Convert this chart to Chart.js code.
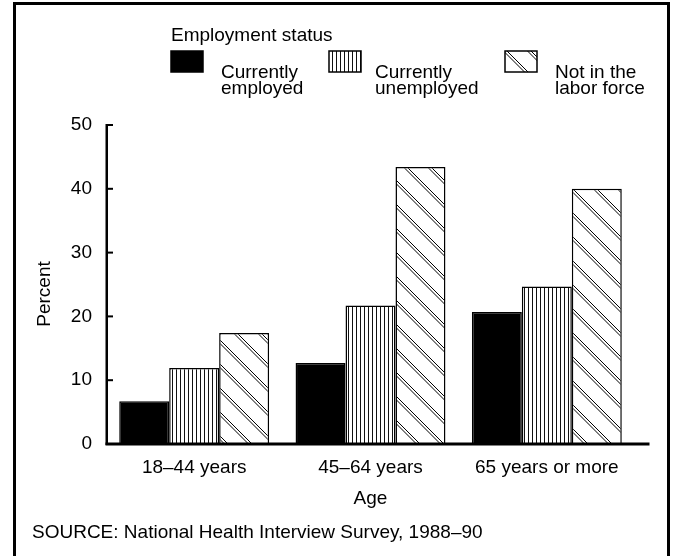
<!DOCTYPE html>
<html><head><meta charset="utf-8">
<script src="https://cdn.jsdelivr.net/npm/chart.js@4.4.1/dist/chart.umd.min.js"></script>
<style>html,body{margin:0;padding:0;background:#fff}#wrap{width:673px;height:556px;position:relative}</style>
</head><body><div id="wrap"><canvas id="c" width="673" height="556"></canvas></div>
<script>
const categories = ["18\u201344 years", "45\u201364 years", "65 years or more"];
const seriesNames = [["Currently", "employed"], ["Currently", "unemployed"], ["Not in the", "labor force"]];
const employed = [6.7, 12.7, 20.7];
const unemployed = [11.9, 21.7, 24.7];
const notInLaborForce = [17.4, 43.4, 40.0];
const yTicks = [0, 10, 20, 30, 40, 50];
const legendTitle = "Employment status";
const xTitle = "Age";
const yTitle = "Percent";
const sourceNote = "SOURCE: National Health Interview Survey, 1988\u201390";

const FONT = '"Liberation Sans", Arial, Helvetica, sans-serif';

function stripePattern() {
  const c = document.createElement('canvas'); c.width = 4; c.height = 4;
  const g = c.getContext('2d');
  g.fillStyle = '#fff'; g.fillRect(0, 0, 4, 4);
  g.fillStyle = '#111'; g.fillRect(0, 0, 1, 4);
  return document.getElementById('c').getContext('2d').createPattern(c, 'repeat');
}
function diagPattern() {
  const s = 24;
  const c = document.createElement('canvas'); c.width = s; c.height = s;
  const g = c.getContext('2d');
  g.fillStyle = '#fff'; g.fillRect(0, 0, s, s);
  g.strokeStyle = '#000'; g.lineWidth = 1;
  [0, 3.5].forEach(off => {
    [-s, 0, s].forEach(k => {
      g.beginPath(); g.moveTo(-2, -2 + off + k); g.lineTo(s + 2, s + 2 + off + k); g.stroke();
    });
  });
  return document.getElementById('c').getContext('2d').createPattern(c, 'repeat');
}

const fills = ['#000', stripePattern(), diagPattern()];
const seriesData = [employed, unemployed, notInLaborForce];

const decor = {
  id: 'decor',
  afterDraw(chart) {
    const ctx = chart.ctx;
    const ys = chart.scales.y;
    const y0 = ys.getPixelForValue(0), yTop = ys.getPixelForValue(50);
    const left = chart.chartArea.left;
    ctx.save();
    // frame
    ctx.strokeStyle = '#000'; ctx.lineWidth = 3;
    ctx.strokeRect(14.5, 3.5, 654, 570);
    // axes
    ctx.fillStyle = '#000';
    ctx.fillRect(left - 0.5, yTop - 1, 2.5, y0 - yTop + 2);
    ctx.fillRect(left - 0.5, y0 - 1.5, 650 - left, 3);
    yTicks.forEach(v => {
      if (v === 0) return;
      const py = ys.getPixelForValue(v);
      ctx.fillRect(left, py - 1, 7, 2);
    });
    // y title
    ctx.font = '19px ' + FONT;
    ctx.textAlign = 'center'; ctx.textBaseline = 'middle';
    ctx.save(); ctx.translate(45, 294); ctx.rotate(-Math.PI / 2);
    ctx.fillText(yTitle, 0, 0); ctx.restore();
    // legend
    ctx.textAlign = 'left'; ctx.textBaseline = 'alphabetic';
    ctx.fillText(legendTitle, 171, 41);
    const sx = [171, 329, 505], tx = [221, 375, 555];
    chart.data.datasets.forEach((ds, i) => {
      ctx.fillStyle = fills[i];
      ctx.fillRect(sx[i], 51, 32, 21);
      ctx.strokeStyle = '#000'; ctx.lineWidth = 1.5;
      ctx.strokeRect(sx[i], 51, 32, 21);
      ctx.fillStyle = '#000';
      seriesNames[i].forEach((ln, j) => ctx.fillText(ln, tx[i], 78 + j * 16.3));
    });
    // source
    ctx.fillText(sourceNote, 32, 538);
    ctx.restore();
  }
};

new Chart(document.getElementById('c'), {
  type: 'bar',
  data: {
    labels: categories,
    datasets: seriesData.map((d, i) => ({
      label: seriesNames[i].join(' '),
      data: d,
      backgroundColor: fills[i],
      borderColor: '#000',
      borderWidth: 1.5,
      borderSkipped: 'bottom'
    }))
  },
  options: {
    responsive: false, animation: false, devicePixelRatio: 1,
    layout: { padding: { left: 15, right: 38, top: 125, bottom: 0 } },
    datasets: { bar: { categoryPercentage: 0.85, barPercentage: 1.0 } },
    plugins: { legend: { display: false }, tooltip: { enabled: false }, title: { display: false } },
    scales: {
      x: {
        type: 'category', offset: true,
        grid: { display: false, drawTicks: false }, border: { display: false },
        ticks: { color: '#000', font: { family: FONT, size: 19 }, padding: 12, maxRotation: 0, autoSkip: false },
        title: { display: true, text: xTitle, color: '#000', font: { family: FONT, size: 19 }, padding: { top: 0, bottom: 46 } },
        afterFit(s) { s.height = 112; }
      },
      y: {
        min: 0, max: 50,
        afterBuildTicks(s) { s.ticks = yTicks.map(v => ({ value: v })); },
        grid: { display: false, drawTicks: false }, border: { display: false },
        ticks: { color: '#000', font: { family: FONT, size: 19 }, padding: 14 },
        afterFit(s) { s.width = 91; }
      }
    }
  },
  plugins: [decor]
});
</script>
</body></html>
